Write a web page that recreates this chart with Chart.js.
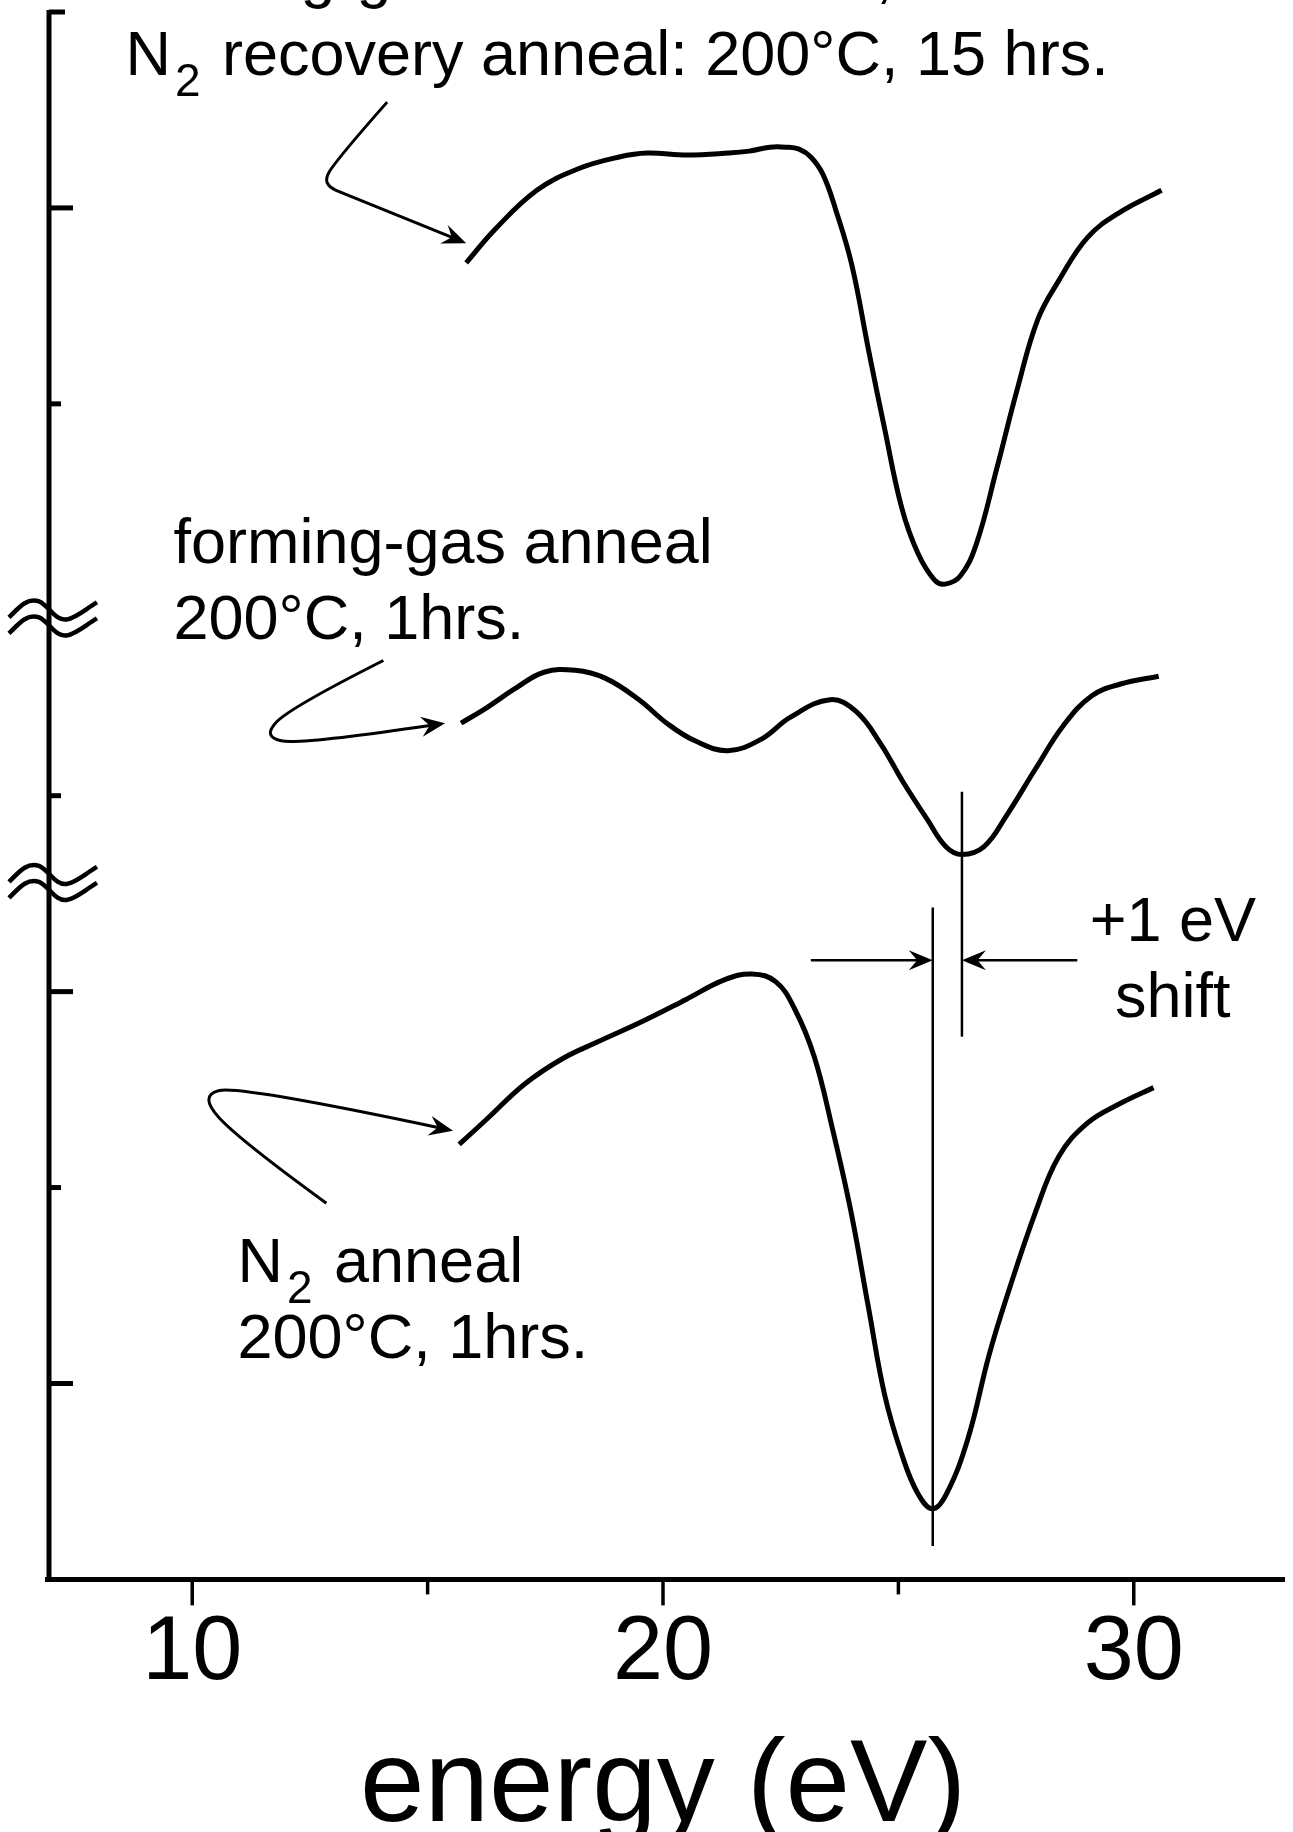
<!DOCTYPE html>
<html>
<head>
<meta charset="utf-8">
<script src="https://cdn.jsdelivr.net/npm/chart.js@4"></script>
<style>
  html, body { margin: 0; padding: 0; background: #fff; }
  #plot { display: block; }
</style>
</head>
<body>
<canvas id="plot" width="1293" height="1832"></canvas>
<script>
// x ticks + labels
const xTickValues = [10, 15, 20, 25, 30]
const xTickLabels = ['10', '', '20', '', '30']
const xTitle = 'energy (eV)'

// y axis is arbitrary units with two breaks, ticks every unit
const yTickValues = [1, 2, 3, 4, 6, 7, 8]
const yBreaks = [4.91, 3.56]

// N2 recovery anneal (top trace)
const recoveryX = [15.82, 16.43, 17.32, 18.20, 19.07, 19.66, 20.51, 21.40, 21.83, 22.27, 22.61, 22.89, 23.14, 23.40, 23.67, 24.01, 24.37, 24.71, 25.07, 25.41, 25.77, 25.99, 26.31, 26.65, 27.09, 27.52, 27.96, 28.41, 29.02, 29.72, 30.59]
const recoveryY = [6.72, 6.89, 7.09, 7.20, 7.26, 7.28, 7.27, 7.28, 7.29, 7.31, 7.31, 7.30, 7.26, 7.17, 6.99, 6.71, 6.27, 5.87, 5.47, 5.24, 5.10, 5.08, 5.12, 5.28, 5.67, 6.07, 6.43, 6.63, 6.85, 6.98, 7.09]

// forming-gas anneal (middle trace)
const formingX = [15.71, 16.26, 16.88, 17.47, 18.13, 18.77, 19.49, 20.08, 20.68, 21.38, 22.10, 22.70, 23.55, 24.10, 24.61, 25.10, 25.61, 26.01, 26.35, 26.82, 27.30, 27.92, 28.51, 29.11, 29.72, 30.53]
const formingY = [4.37, 4.45, 4.55, 4.63, 4.64, 4.60, 4.49, 4.37, 4.28, 4.23, 4.29, 4.40, 4.49, 4.43, 4.27, 4.07, 3.88, 3.74, 3.70, 3.74, 3.90, 4.14, 4.36, 4.51, 4.57, 4.61]

// N2 anneal (bottom trace)
const n2X = [15.67, 16.26, 17.07, 17.88, 18.58, 19.58, 20.49, 21.30, 21.89, 22.40, 22.80, 23.21, 23.59, 23.99, 24.37, 24.71, 25.07, 25.41, 25.73, 26.03, 26.48, 26.92, 27.30, 27.92, 28.41, 29.02, 29.72, 30.42]
const n2Y = [2.22, 2.35, 2.53, 2.66, 2.74, 2.85, 2.96, 3.06, 3.09, 3.05, 2.91, 2.67, 2.31, 1.88, 1.38, 0.94, 0.64, 0.44, 0.36, 0.44, 0.72, 1.14, 1.44, 1.88, 2.16, 2.33, 2.43, 2.51]

// label texts
const recoveryText = ['forming-gas anneal: 200°C, 1hrs.', ' recovery anneal: 200°C, 15 hrs.']
const formingText = ['forming-gas anneal', '200°C, 1hrs.']
const n2Text = [' anneal', '200°C, 1hrs.']
const shiftText = ['+1 eV', 'shift']

const FONT = '"Liberation Sans", Arial, Helvetica, sans-serif'

function pts(xs, ys) {
    return xs.map((v, i) => ({x: v, y: ys[i]}))
}

// annotation layout, in data units
const notes = {
    leaders: [
        [[14.14, 7.54], [13.04, 7.24], [12.76, 7.12], [13.35, 7.06], [15.82, 6.82]],
        [[14.06, 4.69], [12.08, 4.45], [11.49, 4.30], [12.29, 4.26], [15.37, 4.37]],
        [[12.85, 1.92], [11.02, 2.24], [10.13, 2.47], [11.02, 2.52], [15.54, 2.29]]
    ],
    shiftLines: [[25.73, 3.43, 0.17], [26.35, 4.02, 2.77]],
    shiftArrowY: 3.16,
    shiftArrows: [[23.14, 25.73], [28.80, 26.35]],
    recoveryAt: [8.58, 8.08, 7.68],
    formingAt: [9.60, 5.19, 4.80],
    n2At: [10.96, 1.52, 1.13],
    shiftAt: [30.83, 3.26, 2.87]
}

function smoothPath(ctx, p) {
    ctx.beginPath()
    ctx.moveTo(p[0][0], p[0][1])
    for (let i = 1; i < p.length - 2; i++) {
        const mx = (p[i][0] + p[i + 1][0]) / 2
        const my = (p[i][1] + p[i + 1][1]) / 2
        ctx.quadraticCurveTo(p[i][0], p[i][1], mx, my)
    }
    const n = p.length
    ctx.quadraticCurveTo(p[n - 2][0], p[n - 2][1], p[n - 1][0], p[n - 1][1])
    ctx.stroke()
}

function arrowHead(ctx, x1, y1, x2, y2, len, half) {
    const a = Math.atan2(y2 - y1, x2 - x1)
    const c = Math.cos(a), s = Math.sin(a)
    ctx.beginPath()
    ctx.moveTo(x2, y2)
    ctx.lineTo(x2 - len * c + half * s, y2 - len * s - half * c)
    ctx.lineTo(x2 - 0.65 * len * c, y2 - 0.65 * len * s)
    ctx.lineTo(x2 - len * c - half * s, y2 - len * s + half * c)
    ctx.closePath()
    ctx.fill()
}

function n2Label(ctx, x, y, rest) {
    ctx.font = '63px ' + FONT
    ctx.fillText('N', x, y)
    const wN = ctx.measureText('N').width
    ctx.font = '46px ' + FONT
    ctx.fillText('2', x + wN + 4, y + 21)
    const w2 = ctx.measureText('2').width
    ctx.font = '63px ' + FONT
    ctx.fillText(rest, x + wN + w2 + 8, y)
}

const sketch = {
    id: 'sketch',
    afterDatasetsDraw(chart) {
        const {ctx, chartArea} = chart
        const xs = chart.scales.x, ys = chart.scales.y
        const X = v => xs.getPixelForValue(v)
        const Y = v => ys.getPixelForValue(v)
        ctx.save()
        ctx.strokeStyle = '#000'
        ctx.fillStyle = '#000'

        // axes
        const ax = chartArea.left - 2
        const y0 = Y(0)
        ctx.lineWidth = 5
        ctx.beginPath()
        ctx.moveTo(ax, Y(8) - 2)
        ctx.lineTo(ax, y0 + 2)
        ctx.moveTo(ax - 4, y0)
        ctx.lineTo(chartArea.right + 10, y0)
        ctx.stroke()

        // y ticks point inward
        yTickValues.forEach(v => {
            const len = v % 2 === 1 ? 24 : (v === 8 ? 16 : 12)
            ctx.beginPath()
            ctx.moveTo(ax, Y(v))
            ctx.lineTo(ax + len, Y(v))
            ctx.stroke()
        })
        // x ticks point down
        ctx.lineWidth = 3.5
        xTickValues.forEach((v, i) => {
            const len = xTickLabels[i] ? 26 : 15
            ctx.beginPath()
            ctx.moveTo(X(v), y0)
            ctx.lineTo(X(v), y0 + len)
            ctx.stroke()
        })

        // axis breaks
        ctx.lineWidth = 4.5
        yBreaks.forEach(b => {
            const cy = Y(b)
            ;[0, 16].forEach(dy => {
                ctx.beginPath()
                ctx.moveTo(ax - 40, cy + dy)
                ctx.bezierCurveTo(ax - 30, cy + dy - 10, ax - 22, cy + dy - 20, ax - 10, cy + dy - 16)
                ctx.bezierCurveTo(ax, cy + dy - 12, ax + 6, cy + dy + 4, ax + 18, cy + dy + 2)
                ctx.bezierCurveTo(ax + 28, cy + dy, ax + 36, cy + dy - 8, ax + 48, cy + dy - 15)
                ctx.stroke()
            })
        })

        // shift markers
        ctx.lineWidth = 2.5
        notes.shiftLines.forEach(([x, a, b]) => {
            ctx.beginPath()
            ctx.moveTo(X(x), Y(a))
            ctx.lineTo(X(x), Y(b))
            ctx.stroke()
        })
        const ay = Y(notes.shiftArrowY)
        notes.shiftArrows.forEach(([a, b]) => {
            ctx.beginPath()
            ctx.moveTo(X(a), ay)
            ctx.lineTo(X(b) + (b > a ? -10 : 10), ay)
            ctx.stroke()
            arrowHead(ctx, X(a), ay, X(b), ay, 24, 10)
        })

        // leader arrows
        ctx.lineWidth = 3
        notes.leaders.forEach(l => {
            const p = l.map(q => [X(q[0]), Y(q[1])])
            const n = p.length
            const tip = p[n - 1]
            const prev = p[n - 2]
            const d = Math.hypot(tip[0] - prev[0], tip[1] - prev[1])
            const stop = [tip[0] - 12 * (tip[0] - prev[0]) / d, tip[1] - 12 * (tip[1] - prev[1]) / d]
            smoothPath(ctx, p.slice(0, n - 1).concat([stop]))
            arrowHead(ctx, prev[0], prev[1], tip[0], tip[1], 24, 10)
        })

        // labels
        ctx.textBaseline = 'alphabetic'
        ctx.textAlign = 'left'
        ctx.font = '63px ' + FONT
        const r = notes.recoveryAt
        ctx.fillText(recoveryText[0], X(r[0]), Y(r[1]))
        n2Label(ctx, X(r[0]), Y(r[2]), recoveryText[1])
        const f = notes.formingAt
        ctx.fillText(formingText[0], X(f[0]), Y(f[1]))
        ctx.fillText(formingText[1], X(f[0]), Y(f[2]))
        const n = notes.n2At
        n2Label(ctx, X(n[0]), Y(n[1]), n2Text[0])
        ctx.font = '63px ' + FONT
        ctx.fillText(n2Text[1], X(n[0]), Y(n[2]))
        const s = notes.shiftAt
        ctx.textAlign = 'center'
        ctx.fillText(shiftText[0], X(s[0]), Y(s[1]))
        ctx.fillText(shiftText[1], X(s[0]), Y(s[2]))
        ctx.restore()
    }
}

const lineStyle = {borderColor: '#000', borderWidth: 5, pointRadius: 0, tension: 0.4, fill: false, borderJoinStyle: 'round'}

new Chart(document.getElementById('plot'), {
    type: 'line',
    data: {
        datasets: [
            Object.assign({label: 'N2 recovery anneal', data: pts(recoveryX, recoveryY)}, lineStyle),
            Object.assign({label: 'forming-gas anneal', data: pts(formingX, formingY)}, lineStyle),
            Object.assign({label: 'N2 anneal', data: pts(n2X, n2Y)}, lineStyle)
        ]
    },
    options: {
        responsive: false,
        animation: false,
        devicePixelRatio: 1,
        layout: {padding: {left: 51, right: 18, top: 12, bottom: 0}},
        plugins: {legend: {display: false}, tooltip: {enabled: false}},
        scales: {
            x: {
                type: 'linear',
                min: 7,
                max: 33,
                afterBuildTicks: (scale) => {
                    scale.ticks = xTickValues.map(v => ({value: v}))
                },
                grid: {display: false, drawTicks: false},
                border: {display: false},
                ticks: {
                    padding: 30,
                    color: '#000',
                    maxRotation: 0,
                    autoSkip: false,
                    font: {family: FONT, size: 90, lineHeight: 1.0},
                    callback: (v, i) => xTickLabels[i]
                },
                title: {
                    display: true,
                    text: xTitle,
                    color: '#000',
                    padding: {top: 10, bottom: -6},
                    font: {family: FONT, size: 116, lineHeight: 0.85}
                }
            },
            y: {
                type: 'linear',
                min: 0,
                max: 8,
                display: false
            }
        }
    },
    plugins: [sketch]
})
</script>
</body>
</html>
